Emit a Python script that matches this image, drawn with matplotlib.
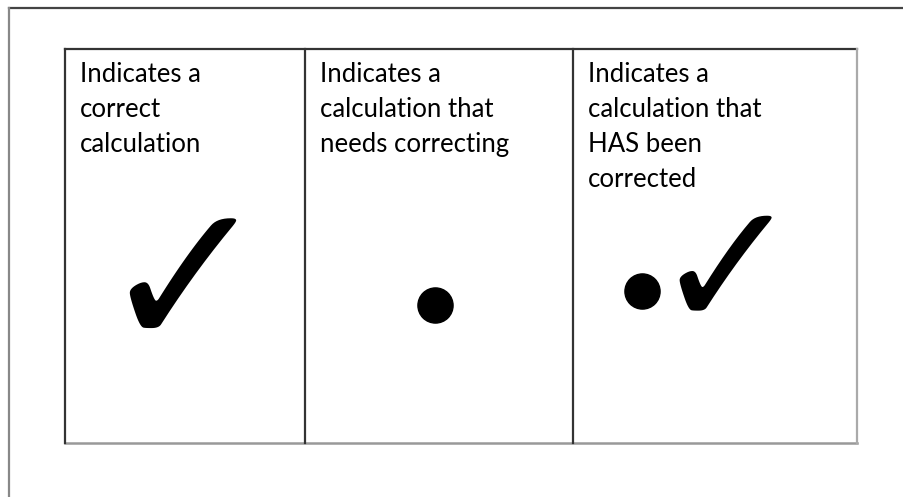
import matplotlib.pyplot as plt

# legend of marking symbols, one column each
labels = [
    "Indicates a\ncorrect\ncalculation",
    "Indicates a\ncalculation that\nneeds correcting",
    "Indicates a\ncalculation that\nHAS been\ncorrected",
]
col_edges = [65, 305, 573, 857]
dots = [(435, 305), (642, 291)]
checks = [(184, 291), (727, 278)]

fig = plt.figure(figsize=(9.04, 4.97), dpi=100)
ax = fig.add_axes([0, 0, 1, 1])
ax.set_xlim(0, 904)
ax.set_ylim(497, 0)
ax.axis('off')

# outer frame (runs off the right and bottom)
ax.plot([9, 904], [8, 8], color='#444444', lw=1.6)
ax.plot([9, 9], [8, 497], color='#888888', lw=1.6)

top, bottom = 49, 443
ax.plot([col_edges[0], col_edges[-1]], [top, top], color='#333333', lw=1.6)
ax.plot([col_edges[0], col_edges[-1]], [bottom, bottom], color='#999999', lw=1.8)
for i, x in enumerate(col_edges):
    c = '#aaaaaa' if i == len(col_edges) - 1 else '#333333'
    ax.plot([x, x], [top, bottom], color=c, lw=1.6)

for x0, txt in zip(col_edges[:-1], labels):
    ax.text(x0 + 15, 62, txt, fontsize=18.5, family='Lato', va='top', ha='left',
            linespacing=1.5, color='black')

for x, y in dots:
    ax.scatter([x], [y], s=640, color='black', zorder=3)

sizes = [148, 128]
for (x, y), fs in zip(checks, sizes):
    ax.text(x, y, "\u2713", fontsize=fs, family='DejaVu Sans', fontweight='bold',
            ha='center', va='center')

fig.savefig("out.png", dpi=100)
